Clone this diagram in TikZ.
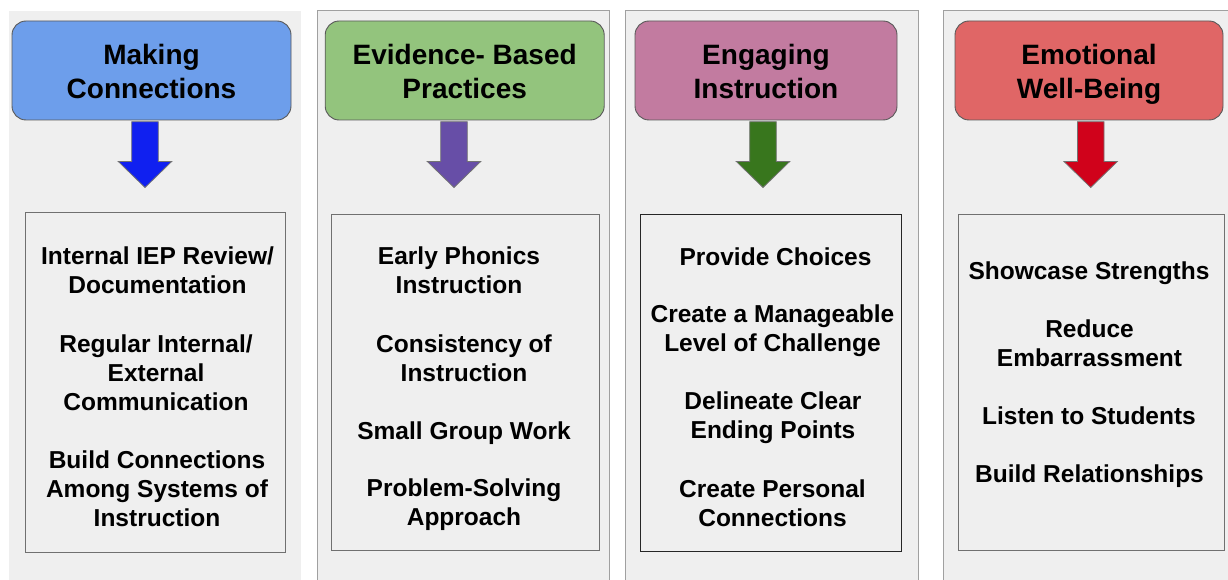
\documentclass[tikz,border=0pt]{standalone}
\usepackage{fontspec}
\setmainfont{Liberation Sans}
\definecolor{panelgray}{HTML}{EFEFEF}
\definecolor{panelline}{HTML}{A0A0A0}
\definecolor{hdrline}{HTML}{595959}
\definecolor{hblue}{HTML}{6D9EEB}
\definecolor{hgreen}{HTML}{93C47D}
\definecolor{hpink}{HTML}{C27BA0}
\definecolor{hred}{HTML}{E06666}
\definecolor{ablue}{HTML}{1020F0}
\definecolor{apurple}{HTML}{674EA7}
\definecolor{agreen}{HTML}{38761D}
\definecolor{ared}{HTML}{D0021B}
\definecolor{boxline}{HTML}{707070}
\tikzset{
  panelbox/.style={fill=panelgray, draw=panelline, line width=1pt},
  hdr/.style={draw=hdrline, line width=0.9pt, rounded corners=14pt, align=center,
    inner sep=0pt, font=\fontsize{28}{34}\selectfont\bfseries},
  blockarrow/.style={draw=black!55, line width=0.8pt, line join=miter},
  itembox/.style={draw=boxline, line width=1pt, fill=panelgray, inner sep=0pt},
  itemtext/.style={align=center, inner sep=0pt, font=\fontsize{24.5}{29}\selectfont\bfseries}
}
\begin{document}
\begin{tikzpicture}[x=1pt,y=-1pt]
\useasboundingbox (0,0) rectangle (1228,580);
\fill[white] (0,0) rectangle (1228,580);
% panels
\fill[panelgray] (9,11) rectangle (301,590);
\draw[panelbox] (317.5,10.5) rectangle (609.5,595);
\draw[panelbox] (625.5,10.5) rectangle (918,595);
\draw[panelbox] (943,10.5) rectangle (1240,595);
% header boxes
\node[hdr, fill=hblue, minimum width=279pt, minimum height=99pt] (h1) at (151.5,70.5) {};
\node[hdr, fill=hgreen, minimum width=279pt, minimum height=99pt] (h2) at (464.7,70.5) {};
\node[hdr, fill=hpink, minimum width=262pt, minimum height=99pt] (h3) at (766,70.5) {};
\node[hdr, fill=hred, minimum width=268pt, minimum height=99pt] (h4) at (1089,70.5) {};
% header texts
\node[hdr, draw=none] (ht1) at (151.5,71.5) {Making\\Connections};
\node[hdr, draw=none] (ht2) at (464.7,71.5) {Evidence- Based\\Practices};
\node[hdr, draw=none] (ht3) at (766,71.5) {Engaging\\Instruction};
\node[hdr, draw=none] (ht4) at (1089,74) {Emotional\\Well-Being};
% arrows
\filldraw[blockarrow, fill=ablue] (131.7,121.7) -- (158.3,121.7) -- (158.3,161.5) -- (171.7,161.5) -- (145,187.5) -- (118.3,161.5) -- (131.7,161.5) -- cycle;
\filldraw[blockarrow, fill=apurple] (440.7,121.7) -- (467.3,121.7) -- (467.3,161.5) -- (480.7,161.5) -- (454,187.5) -- (427.3,161.5) -- (440.7,161.5) -- cycle;
\filldraw[blockarrow, fill=agreen] (749.7,121.7) -- (776.3,121.7) -- (776.3,161.5) -- (789.7,161.5) -- (763,187.5) -- (736.3,161.5) -- (749.7,161.5) -- cycle;
\filldraw[blockarrow, fill=ared] (1077.4,121.7) -- (1104,121.7) -- (1104,161.5) -- (1117.4,161.5) -- (1090.7,187.5) -- (1064,161.5) -- (1077.4,161.5) -- cycle;
% item boxes
\node[itembox, minimum width=260pt, minimum height=340pt] (b1) at (155,382) {};
\node[itembox, minimum width=268pt, minimum height=336pt] (b2) at (465,382) {};
\node[itembox, draw=black!85, minimum width=261.5pt, minimum height=337pt] (b3) at (771,382.5) {};
\node[itembox, minimum width=266pt, minimum height=336pt] (b4) at (1091,382) {};
% column 1 items
\node[itemtext] (t11) at (157.5,270.5) {Internal IEP Review/\\Documentation};
\node[itemtext] (t12) at (156,372.5) {Regular Internal/\\External\\Communication};
\node[itemtext] (t13) at (157,488.5) {Build Connections\\Among Systems of\\Instruction};
% column 2 items
\node[itemtext] (t21) at (459,270.5) {Early Phonics\\Instruction};
\node[itemtext] (t22) at (464,358) {Consistency of\\Instruction};
\node[itemtext] (t23) at (464,433) {Small Group Work};
\node[itemtext] (t24) at (464,504.5) {Problem-Solving\\Approach};
% column 3 items
\node[itemtext] (t31) at (775.5,256.5) {Provide Choices};
\node[itemtext] (t32) at (772.5,330.5) {Create a Manageable\\Level of Challenge};
\node[itemtext] (t33) at (773,417.5) {Delineate Clear\\Ending Points};
\node[itemtext] (t34) at (772.5,503) {Create Personal\\Connections};
% column 4 items
\node[itemtext] (t41) at (1089,273) {Showcase Strengths};
\node[itemtext] (t42) at (1089.5,343) {Reduce\\Embarrassment};
\node[itemtext] (t43) at (1089,416) {Listen to Students};
\node[itemtext] (t44) at (1089.5,476) {Build Relationships};
\end{tikzpicture}
\end{document}
